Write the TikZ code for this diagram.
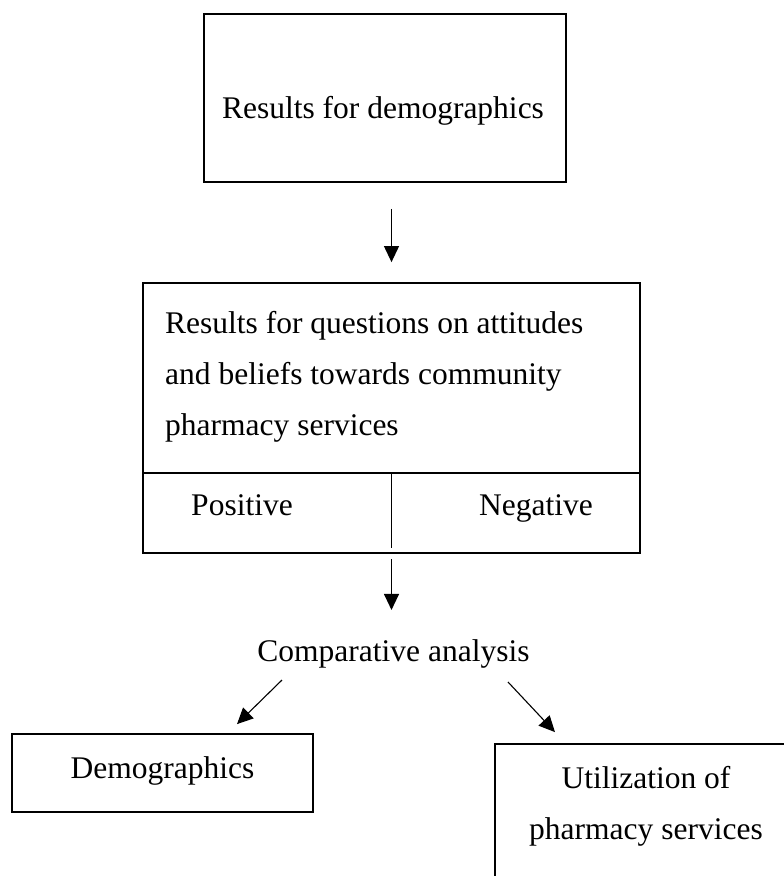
\documentclass[tikz,border=0pt]{standalone}
\usepackage{fontspec}
\setmainfont{Liberation Serif}
\usetikzlibrary{arrows.meta,positioning}

\tikzset{
  frame/.style={draw, line width=1.8pt, inner sep=0pt},
  txt/.style={inner sep=0pt, font=\fontsize{31.5pt}{51pt}\selectfont},
  flow/.style={-{Triangle[length=16pt,width=15pt]}, line width=1.1pt}
}

\begin{document}
\begin{tikzpicture}[x=1pt, y=-1pt]
    \useasboundingbox (0,0) rectangle (784,876);
    \clip (0,0) rectangle (784,876);
    % boxes
    \node[frame, minimum width=362pt, minimum height=168pt] (demogbox) at (385,98) {};
    \node[txt, anchor=base] (demogtext) at (383,118) {Results for demographics};
    \node[frame, minimum width=497pt, minimum height=190pt] (attbox) at (391.5,378) {};
    \node[txt, anchor=north west, align=left] (atttext) at (165,311.5) {Results for questions on attitudes\\and beliefs towards community\\pharmacy services};
    \node[frame, minimum width=497pt, minimum height=80pt] (splitbox) at (391.5,513) {};
    \node[txt, anchor=base] (postext) at (242,515) {Positive};
    \node[txt, anchor=base] (negtext) at (536,515) {Negative};
    \node[txt, anchor=base] (comp) at (393.5,661) {Comparative analysis};
    \node[frame, minimum width=301pt, minimum height=78pt] (demobox) at (162.5,773) {};
    \node[txt, anchor=base] (demotext) at (162.5,778) {Demographics};
    \node[frame, minimum width=302pt, minimum height=146pt] (usebox) at (646,817) {};
    \node[txt, anchor=north, align=center] (usetext) at (646,766.5) {Utilization of\\pharmacy services};
    % divider and arrows
    \draw[line width=1.1pt, shorten <=2pt, shorten >=6pt] (splitbox.north) -- (splitbox.south);
    \draw[flow, shorten <=26pt, shorten >=20pt] (demogbox.south -| attbox.north) -- (attbox.north);
    \draw[flow, shorten <=5pt, shorten >=29pt] (splitbox.south) -- (splitbox.south |- comp.north);
    \draw[flow] ([xshift=-111.5pt,yshift=-12pt]comp.south) -- ([xshift=74.5pt,yshift=9pt]demobox.north);
    \draw[flow] ([xshift=114.5pt,yshift=-14pt]comp.south) -- ([xshift=-91pt,yshift=11pt]usebox.north);
\end{tikzpicture}
\end{document}
